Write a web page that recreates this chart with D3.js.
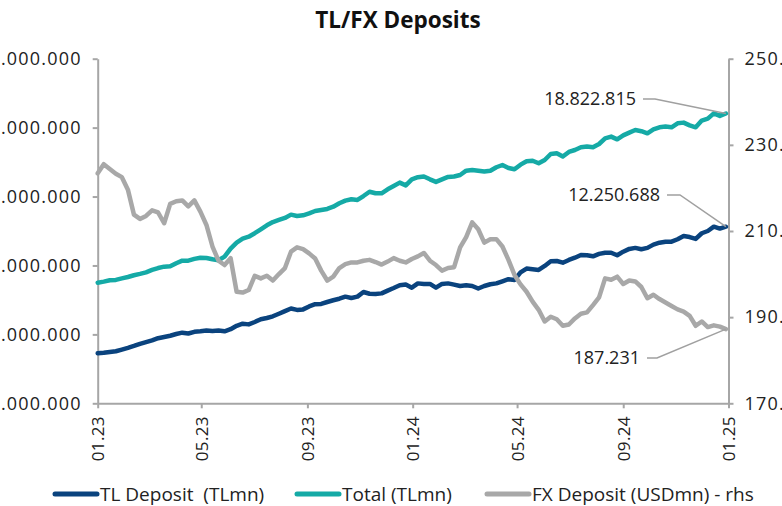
<!doctype html>
<html>
<head>
<meta charset="utf-8">
<style>
  body { margin: 0; background: #fff; }
  #chart { display: block; font-family: "Open Sans", "Noto Sans", sans-serif; }
  .axis path, .axis line { stroke: #a6a6a6; stroke-width: 2; }
  .axis text { fill: #222; font-size: 18px; letter-spacing: 1.2px; font-family: "Open Sans", "Noto Sans", sans-serif; }
  .x.axis text { font-size: 17px; letter-spacing: 0.3px; }
  .line { fill: none; stroke-width: 4.5; stroke-linejoin: round; stroke-linecap: round; }
  .leader { fill: none; stroke: #a0a0a0; stroke-width: 1.5; }
  .note { fill: #222; font-size: 18px; }
  .legend text { fill: #222; font-size: 19px; }
</style>
</head>
<body>
<svg id="chart" width="782" height="506"></svg>
<script src="https://cdn.jsdelivr.net/npm/d3@7"></script>
<script>
// weekly values, Jan 2023 - Jan 2025
// TL and Total in million TLmn, FX in billion USD (USDmn / 1000)
var tlDeposit = [
  4.90,4.93,4.98,5.02,5.12,5.22,5.33,5.45,5.55,5.65,5.78,5.85,5.92,6.02,6.10,6.05,6.15,6.18,6.22,6.20,
  6.22,6.18,6.30,6.50,6.62,6.58,6.72,6.88,6.95,7.05,7.20,7.35,7.50,7.42,7.45,7.62,7.75,
  7.77,7.88,7.98,8.07,8.19,8.11,8.19,8.46,8.36,8.35,8.38,8.54,8.69,8.85,8.89,8.71,8.96,8.93,8.93,8.71,
  8.93,8.96,8.89,8.81,8.85,8.81,8.66,8.81,8.91,8.96,9.08,9.20,9.16,
  9.60,9.82,9.78,9.74,9.97,10.24,10.26,10.16,10.32,10.45,10.61,10.59,10.53,10.67,10.74,10.74,10.59,
  10.80,10.96,11.02,10.94,11.02,11.21,11.32,11.38,11.38,11.52,11.71,11.65,11.54,11.87,12.00,12.25,12.14,12.25
];
var totalDeposit = [
  9.00,9.06,9.14,9.16,9.25,9.33,9.43,9.51,9.60,9.74,9.85,9.93,9.95,10.13,10.28,10.28,10.38,10.45,10.43,10.36,
  10.30,10.51,10.98,11.33,11.56,11.67,11.87,12.10,12.33,12.52,12.64,12.76,12.95,12.87,12.91,13.02,13.16,
  13.22,13.28,13.41,13.61,13.76,13.84,13.80,14.03,14.28,14.19,14.19,14.42,14.61,14.81,14.65,15.00,15.12,
  15.16,15.00,14.85,15.00,15.14,15.16,15.25,15.50,15.54,15.50,15.45,15.50,15.70,15.83,15.66,15.58,
  15.85,16.05,16.08,15.93,16.12,16.47,16.51,16.32,16.59,16.70,16.86,16.90,16.86,17.05,17.38,17.48,17.32,
  17.55,17.71,17.86,17.79,17.67,17.90,18.02,18.06,18.02,18.25,18.29,18.13,18.02,18.41,18.52,18.83,18.68,18.82
];
var fxDeposit = [
  223.4,225.5,224.4,223.3,222.5,219.6,213.8,212.8,213.5,214.8,214.3,211.8,216.3,216.9,217.1,215.7,217.1,214.5,
  211.4,206.4,203.1,202.1,203.7,195.9,195.7,196.3,199.6,199.0,199.6,198.5,200.0,201.4,205.2,206.2,205.8,204.8,203.6,
  200.8,198.5,199.4,201.4,202.3,202.7,202.7,203.1,203.3,202.8,202.2,202.9,203.7,203.1,202.7,203.5,204.1,204.9,
  203.1,202.1,200.8,201.4,201.6,206.2,208.6,212.0,210.4,207.3,208.1,208.1,206.4,203.3,199.8,
  197.6,195.9,193.6,191.7,189.0,190.1,189.5,188.0,188.3,189.7,190.8,191.1,192.8,194.6,199.0,198.7,199.4,
  197.7,198.5,198.3,197.0,194.4,195.2,194.2,193.4,192.6,191.8,191.3,190.3,188.0,189.0,187.7,188.1,187.8,187.23
];
var xTickLabels = ["01.23", "05.23", "09.23", "01.24", "05.24", "09.24", "01.25"];
var leftTicks = [2, 6, 10, 14, 18, 22];
var rightTicks = [170, 190, 210, 230, 250];
var seriesNames = ["TL Deposit  (TLmn)", "Total (TLmn)", "FX Deposit (USDmn) - rhs"];
var seriesColors = ["#0a437e", "#15aaa6", "#a8a8a8"];
var endLabels = ["12.250.688", "18.822.815", "187.231"];

var svg = d3.select("#chart");
var m = {left: 97.7, right: 728.5, top: 58.7, bottom: 403.3};

var start = new Date(2023, 0, 1);
var dates = tlDeposit.map(function(d, i) { return d3.timeDay.offset(start, 7 * i); });
var tickDates = xTickLabels.map(function(s) {
  return new Date(2000 + +s.slice(3), +s.slice(0, 2) - 1, 1);
});

var x = d3.scaleTime()
    .domain([start, new Date(2025, 0, 1)])
    .range([m.left, m.right]);
var yL = d3.scaleLinear().domain([2, 22]).range([m.bottom, m.top]);
var yR = d3.scaleLinear().domain([170, 250]).range([m.bottom, m.top]);

var dot = function(v) { return d3.format(",")(v).replace(/,/g, "."); };

// axes
var gx = svg.append("g")
    .attr("class", "x axis")
    .attr("transform", "translate(0," + m.bottom + ")")
    .call(d3.axisBottom(x).tickValues(tickDates).tickSize(5).tickSizeOuter(0)
      .tickFormat(function(d, i) { return xTickLabels[i]; }));
gx.selectAll("text")
    .attr("transform", "rotate(-90)")
    .attr("text-anchor", "end")
    .attr("x", -13)
    .attr("y", 0)
    .attr("dy", "0.35em");

svg.append("g")
    .attr("class", "y axis")
    .attr("transform", "translate(" + m.left + ",0)")
    .call(d3.axisLeft(yL).tickValues(leftTicks).tickSize(5).tickSizeOuter(0).tickPadding(11)
      .tickFormat(function(d) { return dot(d * 1e6); }));

svg.append("g")
    .attr("class", "y axis")
    .attr("transform", "translate(" + m.right + ",0)")
    .call(d3.axisRight(yR).tickValues(rightTicks).tickSize(5).tickSizeOuter(0).tickPadding(11)
      .tickFormat(function(d) { return dot(d * 1000); }));

// lines
var lineL = d3.line()
    .x(function(d, i) { return x(dates[i]); })
    .y(function(d) { return yL(d); });
var lineR = d3.line()
    .x(function(d, i) { return x(dates[i]); })
    .y(function(d) { return yR(d); });

svg.append("path").attr("class", "line").attr("d", lineL(totalDeposit)).attr("stroke", seriesColors[1]);
svg.append("path").attr("class", "line").attr("d", lineL(tlDeposit)).attr("stroke", seriesColors[0]);
svg.append("path").attr("class", "line").attr("d", lineR(fxDeposit)).attr("stroke", seriesColors[2]);

// end value notes
var n = tlDeposit.length - 1;
var ends = [
  [x(dates[n]), yL(tlDeposit[n])],
  [x(dates[n]), yL(totalDeposit[n])],
  [x(dates[n]), yR(fxDeposit[n])]
];
var notePos = [[660, 195, 680], [636, 99, 655], [640, 358, 657]];
notePos.forEach(function(p, i) {
  svg.append("text").attr("class", "note")
      .attr("x", p[0]).attr("y", p[1]).attr("dy", "0.35em")
      .attr("text-anchor", "end")
      .text(endLabels[i]);
  svg.append("path").attr("class", "leader")
      .attr("d", "M" + (p[0] + 7) + "," + p[1] + "L" + p[2] + "," + p[1] + "L" + ends[i][0] + "," + ends[i][1]);
});

// title
svg.append("text")
    .attr("x", 398).attr("y", 28)
    .attr("text-anchor", "middle")
    .attr("font-size", 22.5).attr("font-weight", "bold").attr("fill", "#111")
    .text("TL/FX Deposits");

// legend
var legendX = [55, 297, 487];
var legend = svg.append("g").attr("class", "legend");
seriesNames.forEach(function(name, i) {
  legend.append("line")
      .attr("x1", legendX[i]).attr("x2", legendX[i] + 42)
      .attr("y1", 494).attr("y2", 494)
      .attr("stroke", seriesColors[i]).attr("stroke-width", 5).attr("stroke-linecap", "round");
  legend.append("text")
      .attr("x", legendX[i] + 45).attr("y", 494).attr("dy", "0.35em")
      .attr("xml:space", "preserve")
      .text(name);
});
</script>
</body>
</html>
